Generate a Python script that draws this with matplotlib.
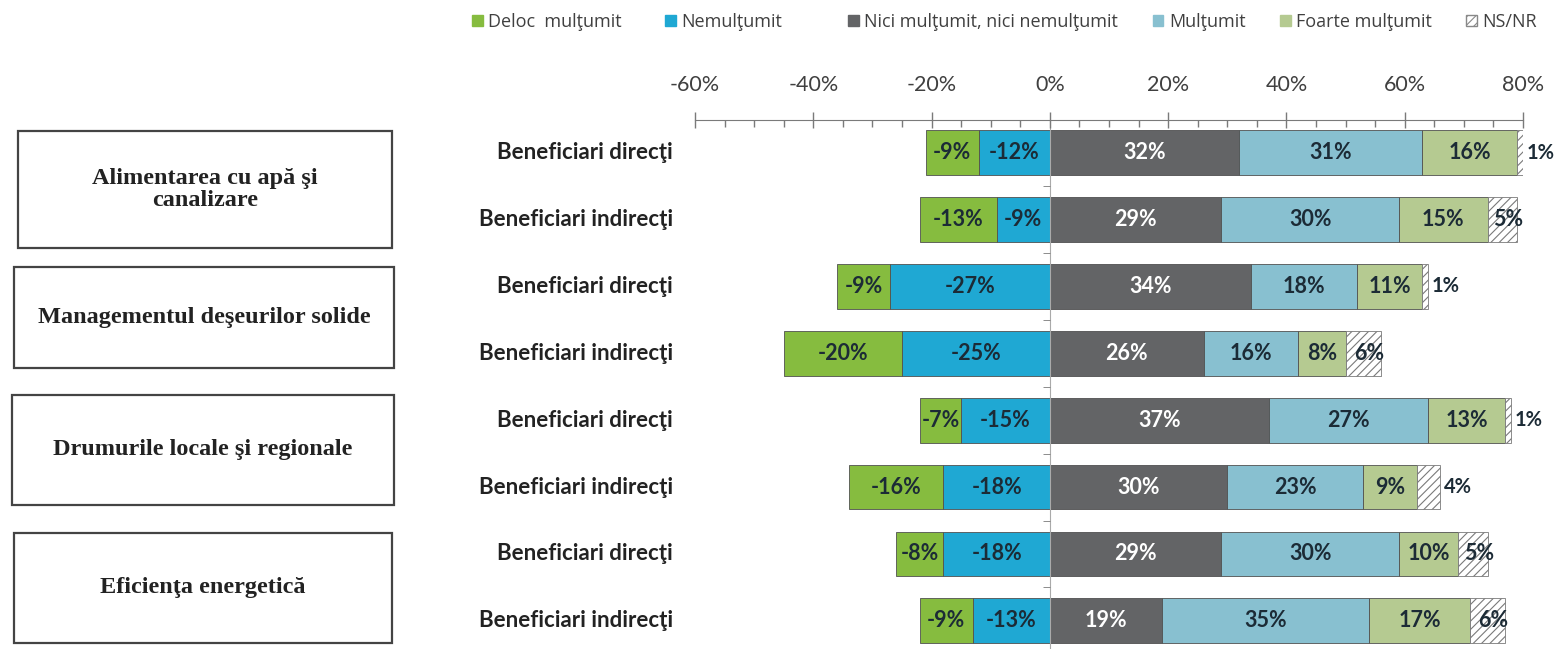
import matplotlib
matplotlib.use("Agg")
import matplotlib.pyplot as plt
from matplotlib.patches import Patch, Rectangle
from matplotlib.ticker import MultipleLocator, FuncFormatter
import numpy as np

# date: procente pe fiecare rand (de sus in jos)
groups = ["Alimentarea cu apă şi\ncanalizare", "Managementul deşeurilor solide",
          "Drumurile locale şi regionale", "Eficienţa energetică"]
rows = ["Beneficiari direcţi", "Beneficiari indirecţi"] * 4
deloc = [-9, -13, -9, -20, -7, -16, -8, -9]
nemultumit = [-12, -9, -27, -25, -15, -18, -18, -13]
nici = [32, 29, 34, 26, 37, 30, 29, 19]
multumit = [31, 30, 18, 16, 27, 23, 30, 35]
foarte = [16, 15, 11, 8, 13, 9, 10, 17]
nsnr = [1, 5, 1, 6, 1, 4, 5, 6]

legend_names = ["Deloc  mulţumit", "Nemulţumit", "Nici mulţumit, nici nemulţumit",
                "Mulţumit", "Foarte mulţumit", "NS/NR"]
colors = ["#86bc3f", "#1fa8d3", "#636466", "#88c0d0", "#b5ca91", "#ffffff"]
txt_dark = "#1c2b36"
grey = "#7a7a7a"

plt.rcParams["font.family"] = ["Lato", "DejaVu Sans"]
plt.rcParams["hatch.linewidth"] = 0.8

W, H = 1555, 649
fig = plt.figure(figsize=(W / 100, H / 100), dpi=100)
ax = fig.add_axes([695 / W, 0, (1523 - 695) / W, 1 - 120 / H])

y = np.arange(len(rows))
bh = 0.67
edge = dict(edgecolor="#505050", linewidth=0.6)

ax.barh(y, nemultumit, left=0, height=bh, color=colors[1], **edge)
ax.barh(y, deloc, left=nemultumit, height=bh, color=colors[0], **edge)
ax.barh(y, nici, left=0, height=bh, color=colors[2], **edge)
left_m = np.array(nici)
ax.barh(y, multumit, left=left_m, height=bh, color=colors[3], **edge)
left_f = left_m + np.array(multumit)
ax.barh(y, foarte, left=left_f, height=bh, color=colors[4], **edge)
left_n = left_f + np.array(foarte)
ax.barh(y, nsnr, left=left_n, height=bh, color="white", hatch="////",
        edgecolor=grey, linewidth=0.6)

fs_bar = 15.5
lab = dict(ha="center", va="center", fontsize=fs_bar, fontweight="bold")
for i in range(len(rows)):
    ax.text(nemultumit[i] / 2, y[i], f"{nemultumit[i]}%", color=txt_dark, **lab)
    ax.text(nemultumit[i] + deloc[i] / 2, y[i], f"{deloc[i]}%", color=txt_dark, **lab)
    ax.text(nici[i] / 2, y[i], f"{nici[i]}%", color="white", **lab)
    ax.text(left_m[i] + multumit[i] / 2, y[i], f"{multumit[i]}%", color=txt_dark, **lab)
    ax.text(left_f[i] + foarte[i] / 2, y[i], f"{foarte[i]}%", color=txt_dark, **lab)
    if nsnr[i] >= 5:
        ax.text(left_n[i] + nsnr[i] / 2 + 1, y[i], f"{nsnr[i]}%", color=txt_dark, **lab)
    else:
        ax.text(left_n[i] + nsnr[i] + 0.6, y[i], f"{nsnr[i]}%", color=txt_dark,
                ha="left", va="center", fontsize=fs_bar - 1, fontweight="bold")

# etichete randuri
for i, r in enumerate(rows):
    ax.text(-0.027, y[i], r, transform=ax.get_yaxis_transform(), ha="right",
            va="center", fontsize=16, fontweight="bold", color="#222222")

ax.set_xlim(-60, 80)
ax.set_ylim(7.42, -0.486)

ax.xaxis.tick_top()
ax.set_xticks(range(-60, 81, 20))
ax.xaxis.set_minor_locator(MultipleLocator(5))
ax.xaxis.set_major_formatter(FuncFormatter(lambda v, p: f"{int(v)}%"))
ax.tick_params(axis="x", which="major", direction="inout", length=12, width=1,
               color=grey, labelsize=15.5, labelcolor="#404040", pad=12)
ax.tick_params(axis="x", which="minor", direction="in", length=5, width=1, color=grey)

ax.set_yticks([])
ax.set_yticks(np.arange(0.5, 7, 1), minor=True)
ax.tick_params(axis="y", which="minor", direction="out", length=5, color=grey)
ax.spines["left"].set_position(("data", 0))
ax.spines["left"].set_color("#aaaaaa")
ax.spines["top"].set_color(grey)
ax.spines["bottom"].set_visible(False)
ax.spines["right"].set_visible(False)
ax.set_axisbelow(False)

# casete grupuri
boxes = [(18, 131, 392, 248), (14, 267, 394, 368), (12, 395, 394, 505), (14, 533, 392, 643)]
for g, (x0, y0, x1, y1) in zip(groups, boxes):
    fig.add_artist(Rectangle((x0 / W, 1 - y1 / H), (x1 - x0) / W, (y1 - y0) / H,
                             transform=fig.transFigure, facecolor="none",
                             edgecolor="#444444", linewidth=1.6))
    fig.text((x0 + x1) / 2 / W, 1 - (y0 + y1) / 2 / H, g, ha="center", va="center",
             family="Liberation Serif", fontweight="bold", fontsize=17.5,
             color="#222222", linespacing=1.05)

# legenda
handles = [Patch(facecolor=c, edgecolor=("#888888" if k == 5 else c),
                 hatch=("////" if k == 5 else None)) for k, c in enumerate(colors)]
leg_kw = dict(frameon=False, prop={"family": ["Open Sans", "DejaVu Sans"], "size": 13},
              handlelength=0.6, handleheight=0.6, handletextpad=0.3,
              labelcolor="#404040", borderaxespad=0)
leg1 = fig.legend(handles[:2], legend_names[:2], ncol=2, loc="center left",
                  bbox_to_anchor=(465 / W, 1 - 22 / H), columnspacing=2.4, **leg_kw)
leg2 = fig.legend(handles[2:], legend_names[2:], ncol=4, loc="center left",
                  bbox_to_anchor=(841 / W, 1 - 22 / H), columnspacing=1.9, **leg_kw)

fig.savefig("out.png", dpi=100)
